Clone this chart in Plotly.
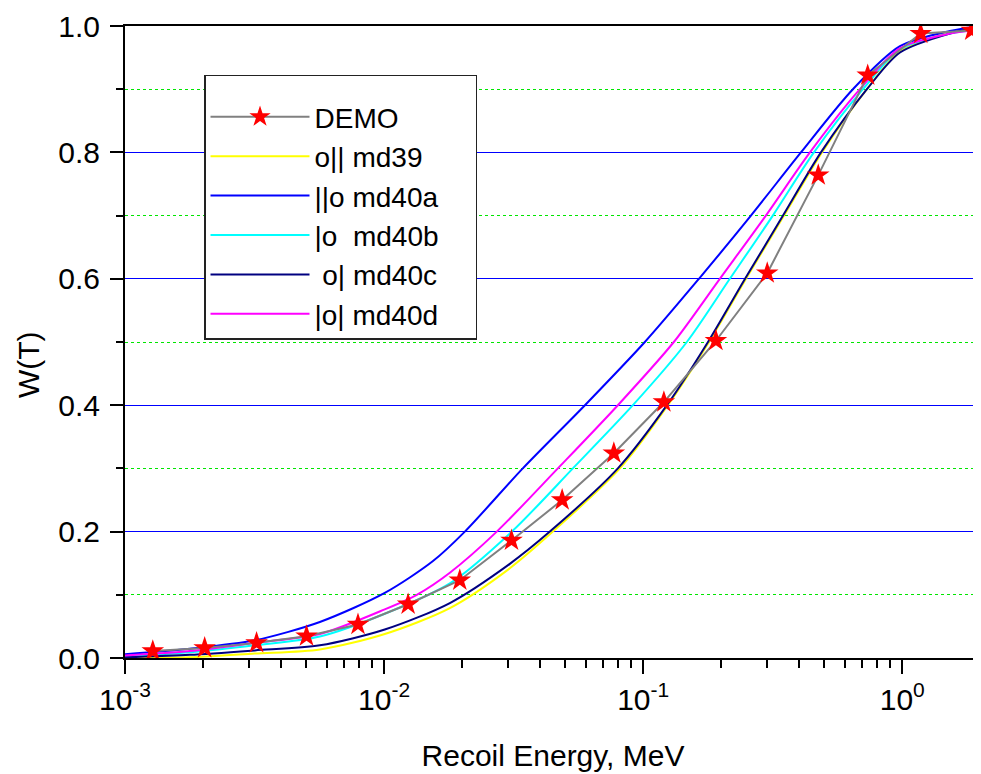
import plotly.graph_objects as go

# ---------------- data ----------------
demo_E = [0.00128, 0.00203, 0.00322, 0.00502, 0.00793, 0.01238, 0.0196, 0.03103,
          0.04867, 0.07705, 0.1202, 0.1909, 0.3012, 0.474, 0.7355, 1.178, 1.854]
demo_W = [0.011, 0.016, 0.024, 0.0345, 0.053, 0.085, 0.123, 0.186,
          0.250, 0.324, 0.405, 0.502, 0.609, 0.764, 0.922, 0.988, 0.993]

md39_E = [0.001, 0.00178, 0.00317, 0.00565, 0.01006, 0.01794, 0.03057, 0.04481, 0.0813,
          0.1246, 0.1795, 0.2494, 0.3496, 0.49, 0.7305, 0.98, 1.528, 2.0]
md39_W = [0.0, 0.001, 0.007, 0.0135, 0.038, 0.079, 0.142, 0.20, 0.30,
          0.40, 0.50, 0.60, 0.70, 0.80, 0.90, 0.96, 0.99, 0.999]

md40a_E = [0.001, 0.00178, 0.00317, 0.00565, 0.01006, 0.0154, 0.0205, 0.0343, 0.0596,
           0.1015, 0.1641, 0.2605, 0.4063, 0.645, 0.98, 1.528, 2.0]
md40a_W = [0.006, 0.0146, 0.028, 0.057, 0.103, 0.153, 0.20, 0.30, 0.40,
           0.50, 0.60, 0.70, 0.80, 0.90, 0.968, 0.992, 1.0]

md40b_E = [0.001, 0.00178, 0.00317, 0.00565, 0.01006, 0.01794, 0.03112, 0.05354, 0.09125,
           0.1474, 0.216, 0.3165, 0.4561, 0.705, 0.98, 1.528, 2.0]
md40b_W = [0.003, 0.009, 0.020, 0.034, 0.070, 0.118, 0.20, 0.30, 0.40,
           0.50, 0.60, 0.70, 0.80, 0.90, 0.963, 0.988, 0.995]

md40c_E = [0.001, 0.00178, 0.00317, 0.00565, 0.01006, 0.01794, 0.03057, 0.04363, 0.07986,
           0.1235, 0.1779, 0.2473, 0.3465, 0.4854, 0.7305, 0.98, 1.528, 2.0]
md40c_W = [0.001, 0.005, 0.012, 0.020, 0.045, 0.087, 0.149, 0.20, 0.30,
           0.40, 0.50, 0.60, 0.70, 0.80, 0.90, 0.958, 0.988, 0.998]

md40d_E = [0.001, 0.00178, 0.00317, 0.00565, 0.01006, 0.01337, 0.01794, 0.02723, 0.04685,
           0.07986, 0.1313, 0.1976, 0.2975, 0.4402, 0.6864, 0.98, 1.528, 2.0]
md40d_W = [0.004, 0.011, 0.024, 0.038, 0.077, 0.10, 0.135, 0.20, 0.30,
           0.40, 0.50, 0.60, 0.70, 0.80, 0.90, 0.965, 0.988, 0.994]

x_tickvals = [0.001, 0.01, 0.1, 1.0]
x_ticktext = ["10<sup>-3</sup>", "10<sup>-2</sup>", "10<sup>-1</sup>", "10<sup>0</sup>"]
x_minor = [m * 10.0 ** e for e in (-3, -2, -1, 0) for m in range(2, 10) if m * 10.0 ** e <= 2.0]

FONT = "Arial, Liberation Sans, sans-serif"
PAD = "\u00a0" * 4  # trailing space that widens the legend box like the reference

fig = go.Figure()

curves = [
    ("o|| md39", md39_E, md39_W, "#ffff00", 2),
    ("||o md40a", md40a_E, md40a_W, "#0000ff", 3),
    ("|o\u00a0\u00a0md40b", md40b_E, md40b_W, "#00ffff", 4),
    ("\u00a0o| md40c", md40c_E, md40c_W, "#000080", 5),
    ("|o| md40d", md40d_E, md40d_W, "#ff00ff", 6),
]
for name, ex, wy, col, rank in curves:
    fig.add_trace(go.Scatter(
        x=ex, y=wy, name=name + PAD, mode="lines",
        line=dict(color=col, width=2, shape="spline", smoothing=0.8),
        legendrank=rank,
    ))

fig.add_trace(go.Scatter(
    x=demo_E, y=demo_W, name="DEMO", mode="lines+markers",
    line=dict(color="#808080", width=2),
    marker=dict(symbol="star", size=17, color="#ff0000", line=dict(width=0)),
    legendrank=1,
))

# The page body has an 8 px margin, so the figure is made 8 px smaller
# and its margins 8 px narrower to keep the plot area where the reference has it.
fig.update_layout(
    width=973, height=766,
    margin=dict(l=117, r=0, t=18, b=116),
    paper_bgcolor="white", plot_bgcolor="white",
    font=dict(family=FONT, size=30, color="black"),
    showlegend=True,
    legend=dict(
        x=0.0923, y=0.9225, xanchor="left", yanchor="top",
        bgcolor="white", bordercolor="#222222", borderwidth=1.5,
        font=dict(family=FONT, size=28, color="black"),
        title=dict(text="\u00a0", font=dict(size=12)),
        itemwidth=99, tracegroupgap=0,
    ),
    xaxis=dict(
        type="log", range=[-3, 0.3039], automargin=False,
        tickmode="array", tickvals=x_tickvals, ticktext=x_ticktext,
        ticks="outside", ticklen=14, tickwidth=1.5, tickcolor="black",
        minor=dict(tickmode="array", tickvals=x_minor, ticks="outside", ticklen=8,
                   tickwidth=1.5, tickcolor="black", showgrid=False),
        showgrid=False, zeroline=False,
        showline=True, linecolor="black", linewidth=2, mirror=True,
        tickfont=dict(family=FONT, size=30),
        title=dict(text="Recoil Energy, MeV", font=dict(family=FONT, size=30), standoff=30),
    ),
    yaxis=dict(
        range=[0, 1.0], tickmode="linear", tick0=0, dtick=0.2, tickformat=".1f",
        automargin=False,
        ticks="outside", ticklen=13, tickwidth=1.5, tickcolor="black",
        ticklabelstandoff=4,
        showgrid=True, gridcolor="#0000ff", gridwidth=1,
        minor=dict(tickmode="linear", tick0=0.1, dtick=0.2, ticks="outside", ticklen=7,
                   tickwidth=1.5, tickcolor="black",
                   showgrid=True, gridcolor="#00e600", griddash="dot", gridwidth=1),
        zeroline=False, showline=True, linecolor="black", linewidth=2, mirror=False,
        tickfont=dict(family=FONT, size=30),
    ),
    annotations=[dict(
        text="W(T)", textangle=-90, xref="paper", yref="paper",
        x=-0.1133, y=0.4636, xanchor="center", yanchor="middle",
        showarrow=False, font=dict(family=FONT, size=30, color="black"),
    )],
)

fig.write_html("out.html")
